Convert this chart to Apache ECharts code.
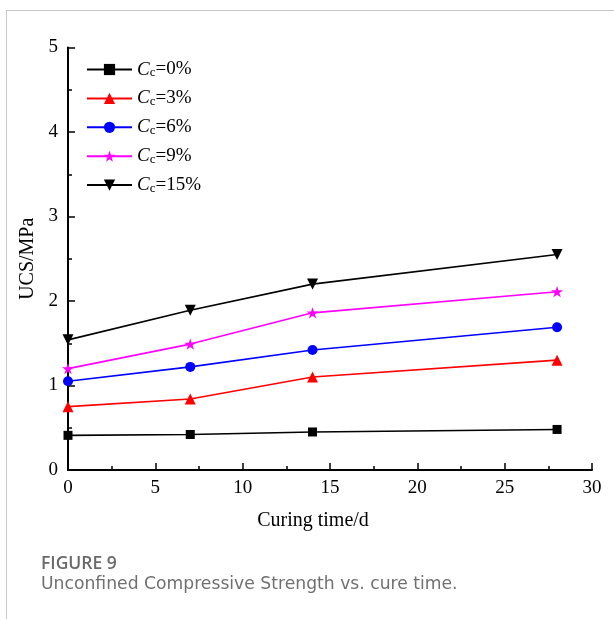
<!DOCTYPE html>
<html>
<head>
<meta charset="utf-8">
<script src="https://cdn.jsdelivr.net/npm/echarts@6/dist/echarts.min.js"></script>
<style>
  html, body { margin: 0; padding: 0; background: #fff; }
  #chart { width: 614px; height: 619px; }
</style>
</head>
<body>
<div id="chart"></div>
<script>
// Curing time (days) and UCS (MPa) for each cement content
const curingDays = [0, 7, 14, 28];
const seriesNames = ['Cc=0%', 'Cc=3%', 'Cc=6%', 'Cc=9%', 'Cc=15%'];
const legendPercents = ['0%', '3%', '6%', '9%', '15%'];
const ucs0 = [0.41, 0.42, 0.45, 0.48];
const ucs3 = [0.75, 0.84, 1.10, 1.30];
const ucs6 = [1.05, 1.22, 1.42, 1.69];
const ucs9 = [1.20, 1.49, 1.86, 2.11];
const ucs15 = [1.54, 1.89, 2.20, 2.55];
const xTicks = [0, 5, 10, 15, 20, 25, 30];
const yTicks = [0, 1, 2, 3, 4, 5];

const seriesValues = [ucs0, ucs3, ucs6, ucs9, ucs15];
const colors = ['#000000', '#ff0000', '#0000ff', '#ff00ff', '#000000'];
const starPath = 'path://M50,0 L61.8,35.4 L100,35.4 L69.1,57.3 L80.9,93.3 L50,71.4 L19.1,93.3 L30.9,57.3 L0,35.4 L38.2,35.4 Z';
const symbols = ['rect', 'triangle', 'circle', starPath, 'triangle'];
const symbolSizes = [9, 11, 10, 12, 11];
const symbolRotates = [0, 0, 0, 0, 180];

const serif = '"Liberation Serif", "Times New Roman", serif';
const sans = '"Open Sans", "Noto Sans", sans-serif';
const wideSans = '"DejaVu Sans", "Open Sans", sans-serif';

const chart = echarts.init(document.getElementById('chart'), null, { renderer: 'canvas' });

const series = seriesNames.map((name, i) => ({
  name: name,
  type: 'line',
  data: curingDays.map((d, k) => [d, seriesValues[i][k]]),
  color: colors[i],
  symbol: symbols[i],
  symbolSize: symbolSizes[i],
  symbolRotate: symbolRotates[i],
  symbolKeepAspect: true,
  showAllSymbol: true,
  clip: false,
  lineStyle: { width: 1.6, color: colors[i] },
  itemStyle: { color: colors[i] },
  emphasis: { disabled: true },
  animation: false
}));

const legendIndex = {};
seriesNames.forEach((n, i) => { legendIndex[n] = i; });

chart.setOption({
  animation: false,
  backgroundColor: '#ffffff',
  grid: { left: 68, right: 22, top: 47.5, bottom: 149, containLabel: false },
  legend: {
    orient: 'vertical',
    left: 86,
    top: 60,
    padding: 0,
    itemWidth: 45,
    itemHeight: 14,
    itemGap: 9.4,
    data: seriesNames,
    formatter: function (name) {
      return '{i|C}{s|c}{t|=' + legendPercents[legendIndex[name]] + '}';
    },
    textStyle: {
      fontFamily: serif,
      fontSize: 19,
      color: '#000',
      rich: {
        i: { fontFamily: serif, fontStyle: 'italic', fontSize: 19, color: '#000', lineHeight: 20 },
        s: { fontFamily: serif, fontSize: 13, color: '#000', lineHeight: 8, verticalAlign: 'bottom' },
        t: { fontFamily: serif, fontSize: 19, color: '#000', lineHeight: 20 }
      }
    }
  },
  xAxis: {
    type: 'value',
    min: 0,
    max: 30,
    interval: 5,
    name: 'Curing time/d',
    nameLocation: 'middle',
    nameGap: 41,
    nameTextStyle: { fontFamily: serif, fontSize: 20, color: '#000', padding: [0, 34, 0, 0] },
    axisLine: { onZero: false, lineStyle: { color: '#000', width: 2 } },
    axisTick: { inside: true, length: 7, lineStyle: { color: '#000', width: 1.5 } },
    minorTick: { show: true, splitNumber: 2, length: 4, lineStyle: { color: '#000', width: 1.5 } },
    axisLabel: { fontFamily: serif, fontSize: 19, color: '#000', margin: 9,
      formatter: v => (xTicks.indexOf(v) >= 0 ? String(v) : '') },
    splitLine: { show: false }
  },
  yAxis: {
    type: 'value',
    min: 0,
    max: 5,
    interval: 1,
    name: 'UCS/MPa',
    nameLocation: 'middle',
    nameGap: 24,
    nameTextStyle: { fontFamily: serif, fontSize: 20, color: '#000' },
    axisLine: { onZero: false, lineStyle: { color: '#000', width: 2 } },
    axisTick: { inside: true, length: 7, lineStyle: { color: '#000', width: 1.5 } },
    minorTick: { show: true, splitNumber: 2, length: 4, lineStyle: { color: '#000', width: 1.5 } },
    axisLabel: { fontFamily: serif, fontSize: 19, color: '#000', margin: 10,
      formatter: v => (yTicks.indexOf(v) >= 0 ? String(v) : '') },
    splitLine: { show: false }
  },
  graphic: [
    { type: 'line', shape: { x1: 6, y1: 10.5, x2: 614, y2: 10.5 }, style: { stroke: '#c8c8c8', lineWidth: 1 }, silent: true },
    { type: 'line', shape: { x1: 6.5, y1: 10, x2: 6.5, y2: 619 }, style: { stroke: '#c8c8c8', lineWidth: 1 }, silent: true },
    { type: 'text', left: 41, top: 555, style: { text: 'FIGURE 9', fontFamily: sans, fontSize: 17.5, fontWeight: 600, fill: '#6a6a6a' }, silent: true },
    { type: 'text', left: 41, top: 576, style: { text: 'Unconfined Compressive Strength vs. cure time.', fontFamily: wideSans, fontSize: 17.2, fill: '#707070' }, silent: true }
  ],
  series: series
});
</script>
</body>
</html>
